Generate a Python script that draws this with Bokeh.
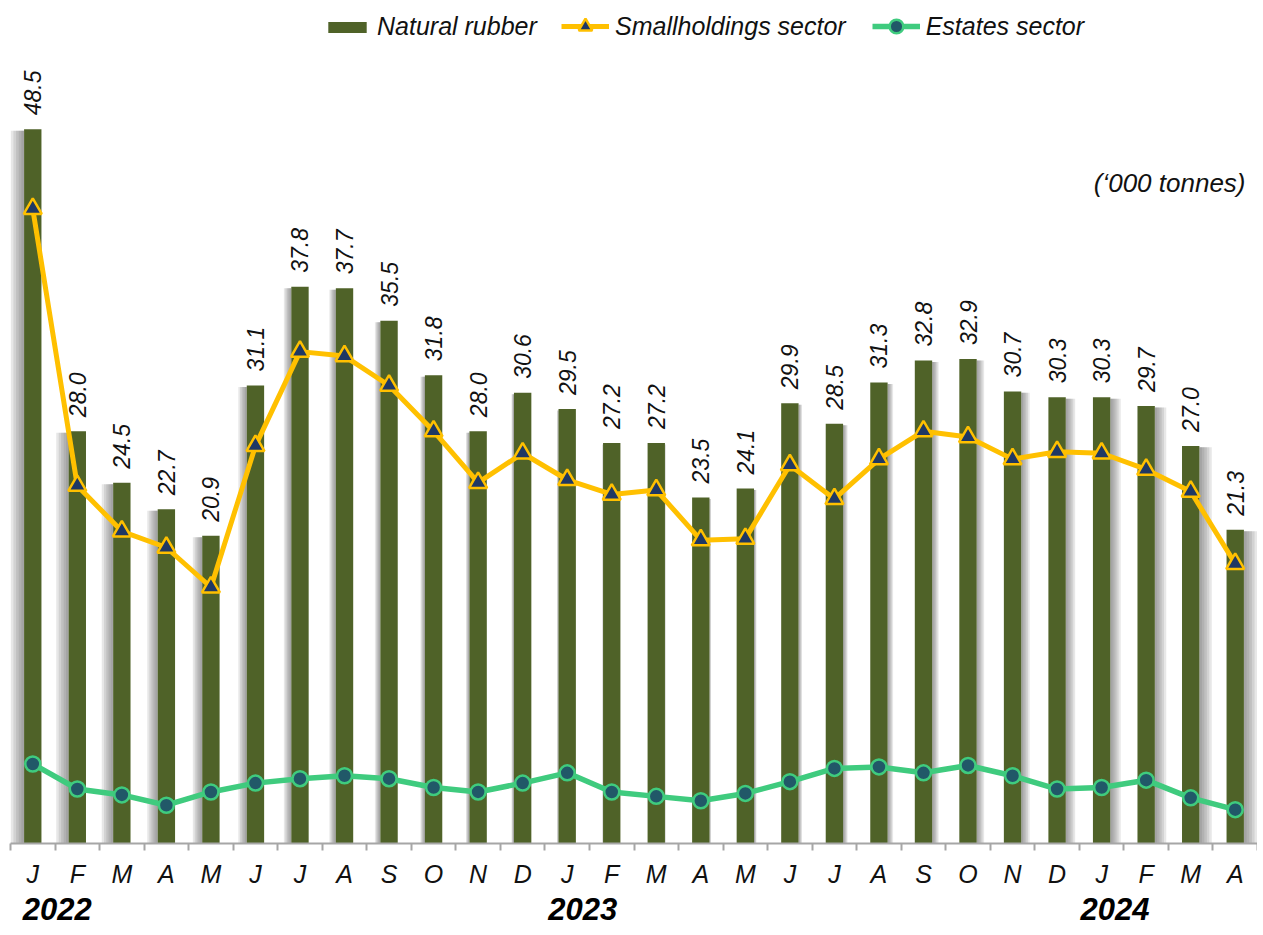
import numpy as np
from bokeh.plotting import figure
from bokeh.models import (ColumnDataSource, FixedTicker, LinearAxis, Legend, LegendItem,
                          Label, Range1d)
from bokeh.embed import file_html
from bokeh.resources import INLINE
from bokeh.core.properties import value

# ---------------- data ----------------
months = ["J", "F", "M", "A", "M", "J", "J", "A", "S", "O", "N", "D",
          "J", "F", "M", "A", "M", "J", "J", "A", "S", "O", "N", "D",
          "J", "F", "M", "A"]
natural_rubber = [48.5, 28.0, 24.5, 22.7, 20.9, 31.1, 37.8, 37.7, 35.5, 31.8, 28.0, 30.6,
                  29.5, 27.2, 27.2, 23.5, 24.1, 29.9, 28.5, 31.3, 32.8, 32.9, 30.7, 30.3,
                  30.3, 29.7, 27.0, 21.3]
smallholdings = [43.1, 24.3, 21.2, 20.1, 17.4, 27.0, 33.4, 33.1, 31.1, 28.0, 24.5, 26.5,
                 24.7, 23.7, 24.0, 20.6, 20.7, 25.7, 23.4, 26.1, 28.0, 27.6, 26.1, 26.6,
                 26.5, 25.4, 23.9, 19.0]
estates = [5.4, 3.7, 3.3, 2.6, 3.5, 4.1, 4.4, 4.6, 4.4, 3.8, 3.5, 4.1,
           4.8, 3.5, 3.2, 2.9, 3.4, 4.2, 5.1, 5.2, 4.8, 5.3, 4.6, 3.7,
           3.8, 4.3, 3.1, 2.3]
years = ["2022", "2023", "2024"]

n = len(months)
idx = np.arange(n)
nat = np.array(natural_rubber)

FONT = "Liberation Sans"
BAR = "#4F6228"
YEL = "#FFC000"
NAVY = "#1F3864"
GRN = "#3FCB7E"
TEAL = "#215868"

p = figure(frame_width=1247, frame_height=835,
           x_range=Range1d(-0.5, n - 0.5), y_range=Range1d(0, 56.7),
           output_backend="svg", toolbar_location=None, y_axis_location=None,
           min_border_top=8, min_border_left=10, min_border_right=0, min_border_bottom=92,
           outline_line_color=None, background_fill_color="white")
p.xgrid.visible = False
p.ygrid.visible = False

# ---------------- bar shadows (soft, perspective-like) ----------------
bw = 0.39
side = (idx - (n - 1) / 2) / ((n - 1) / 2)
for k in range(5):
    ext = np.abs(side) * 0.30 * (k + 1) / 5
    left = np.where(side < 0, idx - bw / 2 - ext, idx + bw / 2)
    right = np.where(side < 0, idx - bw / 2, idx + bw / 2 + ext)
    p.quad(left=left, right=right, bottom=0, top=nat - 0.1,
           fill_color="#555555", fill_alpha=0.14, line_color=None)

# ---------------- bars ----------------
src = ColumnDataSource(dict(x=idx, nat=nat, sm=smallholdings, es=estates,
                            lab=[f"{v:.1f}" for v in natural_rubber]))
bars = p.vbar(x="x", top="nat", width=bw, source=src, fill_color=BAR, line_color=None)

# ---------------- lines ----------------
sm_line = p.line("x", "sm", source=src, line_color=YEL, line_width=5)
sm_pts = p.scatter("x", "sm", source=src, marker="triangle", size=18,
                   fill_color=NAVY, line_color=YEL, line_width=2.5)
es_line = p.line("x", "es", source=src, line_color=GRN, line_width=5.5)
es_pts = p.scatter("x", "es", source=src, marker="circle", size=15,
                   fill_color=TEAL, line_color=GRN, line_width=2.5)

# ---------------- data labels ----------------
p.text(x="x", y="nat", text="lab", source=src, angle=np.pi / 2, y_offset=-14,
       text_align="left", text_baseline="middle", text_font=value(FONT),
       text_font_style="italic", text_font_size="23px", text_color="#111111")

# ---------------- month axis ----------------
ax = p.xaxis[0]
ax.ticker = FixedTicker(ticks=list(range(n)), minor_ticks=[i - 0.5 for i in range(n + 1)])
ax.major_label_overrides = {i: m for i, m in enumerate(months)}
ax.major_tick_out = 0
ax.major_tick_in = 0
ax.minor_tick_out = 7
ax.minor_tick_in = 0
ax.minor_tick_line_color = "#A6A6A6"
ax.minor_tick_line_width = 2
ax.axis_line_color = "#A6A6A6"
ax.axis_line_width = 2
ax.major_label_standoff = 9
ax.major_label_text_font = FONT
ax.major_label_text_font_style = "italic"
ax.major_label_text_font_size = "25px"
ax.major_label_text_color = "#111111"

# ---------------- year axis ----------------
p.extra_x_ranges["yr"] = Range1d(-10, 20 * (n - 0.5))
year_ticks = [11, 247, 486]
yax = LinearAxis(x_range_name="yr", ticker=FixedTicker(ticks=year_ticks, minor_ticks=[]),
                 major_label_overrides={t: y for t, y in zip(year_ticks, years)},
                 axis_line_color=None, major_tick_line_color=None, minor_tick_line_color=None,
                 major_tick_out=0, major_tick_in=0, major_label_standoff=7,
                 major_label_text_font=FONT, major_label_text_font_style="bold italic",
                 major_label_text_font_size="31px", major_label_text_color="black")
p.add_layout(yax, "below")

# ---------------- legends ----------------
common = dict(orientation="horizontal", glyph_width=48, label_standoff=6, spacing=26,
              padding=0, margin=0, label_text_font=FONT, label_text_font_style="italic",
              label_text_font_size="25px", label_text_color="#111111",
              background_fill_alpha=0, border_line_alpha=0)
legend1 = Legend(items=[LegendItem(label="Natural rubber", renderers=[bars])],
                 location=(313, 802), glyph_height=14, **common)
legend2 = Legend(items=[LegendItem(label="Smallholdings sector", renderers=[sm_line, sm_pts]),
                        LegendItem(label="Estates sector", renderers=[es_line, es_pts])],
                 location=(551, 800), glyph_height=34, **common)
p.add_layout(legend1)
p.add_layout(legend2)

# ---------------- unit note ----------------
p.add_layout(Label(x=1235, y=661, x_units="screen", y_units="screen",
                   text="(\u2018000 tonnes)", text_align="right", text_baseline="middle",
                   text_font=FONT, text_font_style="italic", text_font_size="26px",
                   text_color="#111111"))

open("out.html", "w").write(file_html(p, INLINE))
